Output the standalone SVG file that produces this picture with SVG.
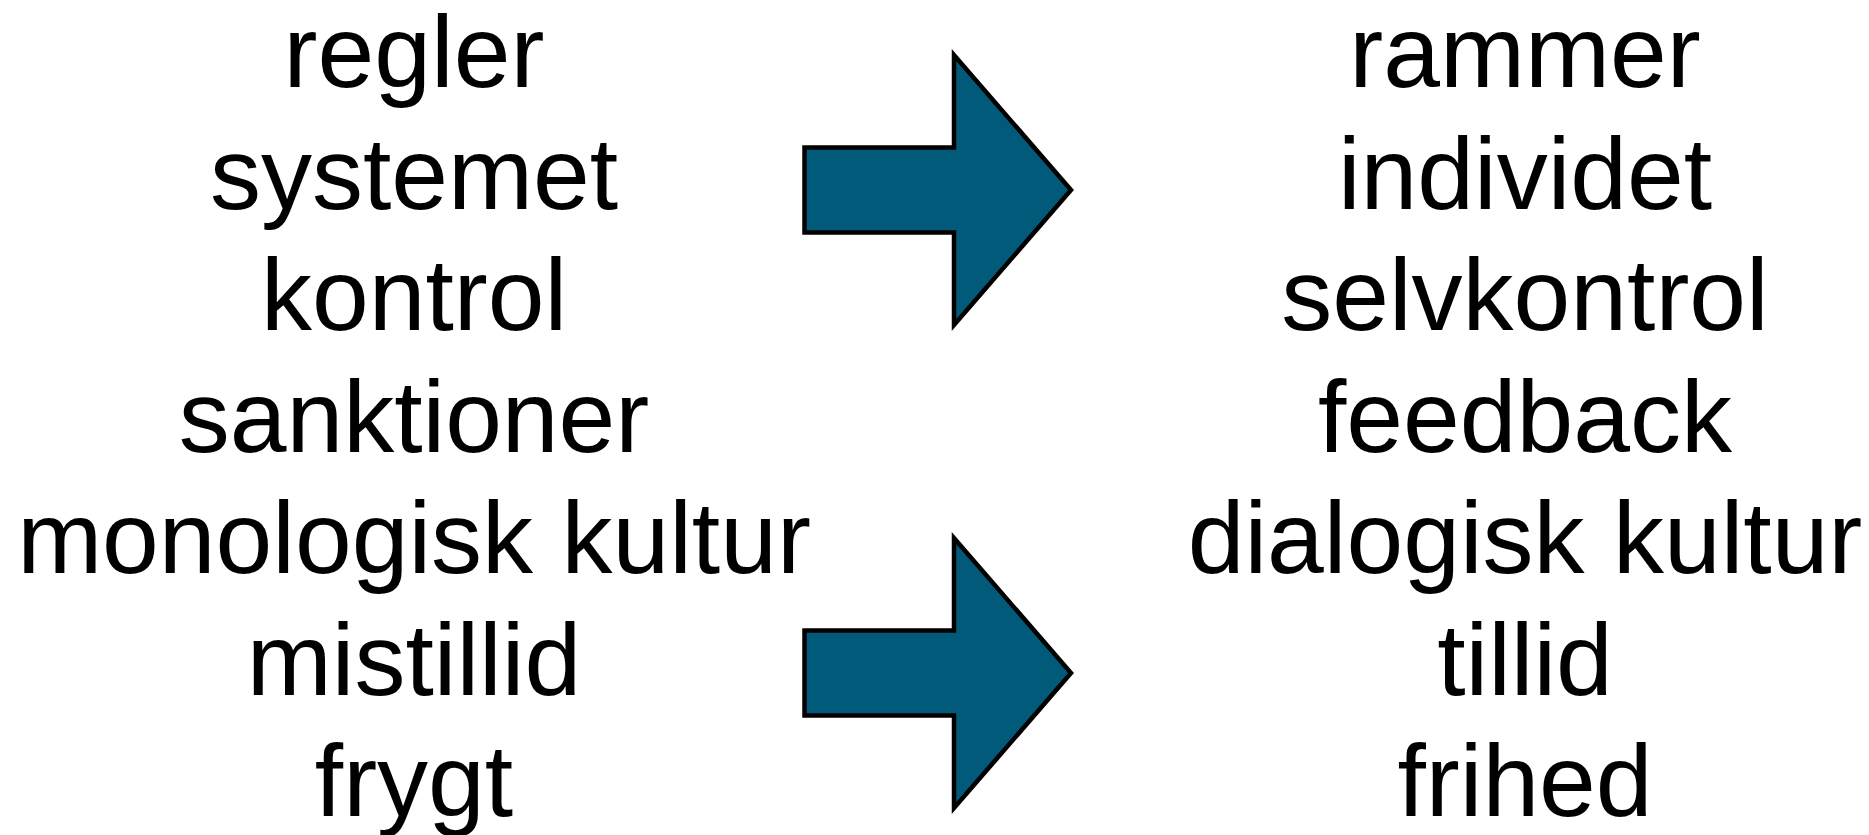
<svg xmlns="http://www.w3.org/2000/svg" width="1869" height="835" viewBox="0 0 1869 835">
<style>
  .t { font-family: "Liberation Sans", Arial, sans-serif; font-size: 102px; fill: #000; text-anchor: middle; }
  .arrow { fill: #015A7A; stroke: #000; stroke-width: 4.5; stroke-linejoin: miter; }
</style>
<rect width="1869" height="835" fill="#fff"/>
<g id="left-column">
  <text class="t" x="414" y="87">regler</text>
  <text class="t" x="414" y="208.5">systemet</text>
  <text class="t" x="414" y="330">kontrol</text>
  <text class="t" x="414" y="451.5">sanktioner</text>
  <text class="t" x="414" y="573">monologisk kultur</text>
  <text class="t" x="414" y="694.5">mistillid</text>
  <text class="t" x="414" y="816">frygt</text>
</g>
<g id="right-column">
  <text class="t" x="1525" y="87">rammer</text>
  <text class="t" x="1525" y="208.5">individet</text>
  <text class="t" x="1525" y="330">selvkontrol</text>
  <text class="t" x="1525" y="451.5">feedback</text>
  <text class="t" x="1525" y="573">dialogisk kultur</text>
  <text class="t" x="1525" y="694.5">tillid</text>
  <text class="t" x="1525" y="816">frihed</text>
</g>
<g id="connectors">
  <polygon id="arrow-top" class="arrow" points="804.5,147.5 954,147.5 954,55 1071,190 954,325 954,232.5 804.5,232.5"/>
  <polygon id="arrow-bottom" class="arrow" points="804.5,630.5 954,630.5 954,538 1071,673 954,808 954,715.5 804.5,715.5"/>
</g>
</svg>
